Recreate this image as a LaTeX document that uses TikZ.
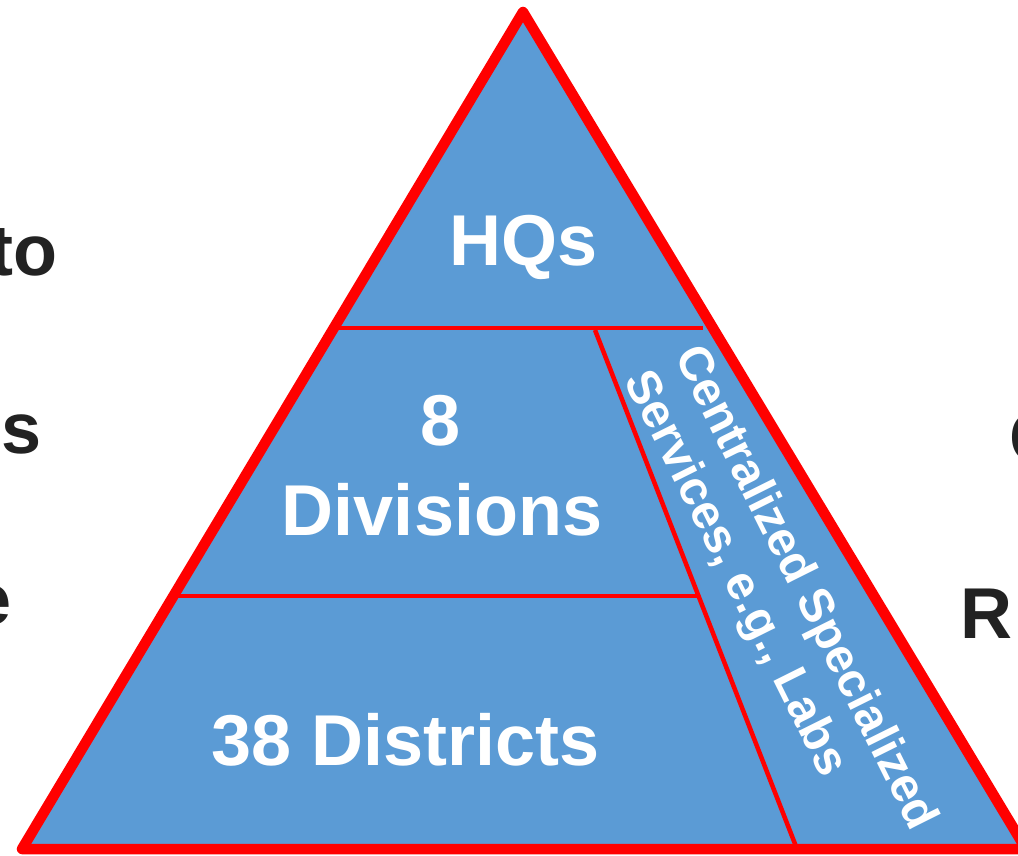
\documentclass[tikz,border=0pt]{standalone}
\usepackage{fontspec}
\setmainfont{Liberation Sans}
\definecolor{pyrblue}{HTML}{5B9BD5}
\definecolor{pyrred}{HTML}{FF0000}
\definecolor{darktext}{HTML}{222222}
\tikzset{
  biglabel/.style={text=white, font=\bfseries\fontsize{72}{90}\selectfont, inner sep=0pt, align=center},
  sidelabel/.style={text=white, font=\bfseries\fontsize{48}{56}\selectfont, inner sep=0pt, align=left},
  cuttext/.style={text=darktext, font=\bfseries\fontsize{72}{86}\selectfont, inner sep=0pt},
  thinline/.style={draw=pyrred, line width=4.5pt},
  border/.style={draw=pyrred, line width=10.5pt, line join=round}
}
\begin{document}
\begin{tikzpicture}[x=1pt,y=-1pt]
\useasboundingbox (0,0) rectangle (1018,856);
\clip (0,0) rectangle (1018,856);
\coordinate (apex) at (523,12);
\coordinate (bl) at (22,849);
\coordinate (br) at (1026,849);
\fill[pyrblue] (apex) -- (bl) -- (br) -- cycle;
\coordinate (t1) at (334,328);
\coordinate (t2) at (703,328);
\coordinate (m1) at (171,596);
\coordinate (m2) at (698.5,596);
\coordinate (d1) at (595,330);
\coordinate (d2) at (797,849);
\draw[thinline] (t1) -- (t2);
\draw[thinline] (m1) -- (m2);
\draw[thinline] (d1) -- (d2);
\draw[border] (apex) -- (bl) -- (br) -- cycle;
\node[biglabel, anchor=base] (hq) at (523.5,265) {HQs};
\node[biglabel, anchor=base] (eight) at (441,445) {8};
\node[biglabel, anchor=base] (div) at (442,535) {Divisions};
\node[biglabel, anchor=base] (dist) at (405.5,765) {38 Districts};
\node[sidelabel, rotate=-63.5] (css) at (779,601) {Centralized Specialized\\Services, e.g., Labs};
\node[cuttext, anchor=base east] (lt1) at (58,275) {to};
\node[cuttext, anchor=base east] (lt2) at (42,453) {s};
\node[cuttext, anchor=base east] (lt3) at (12,624) {e};
\node[cuttext, anchor=base west] (rt1) at (1009,462) {C};
\node[cuttext, anchor=base west] (rt2) at (960,638) {R};
\end{tikzpicture}
\end{document}
